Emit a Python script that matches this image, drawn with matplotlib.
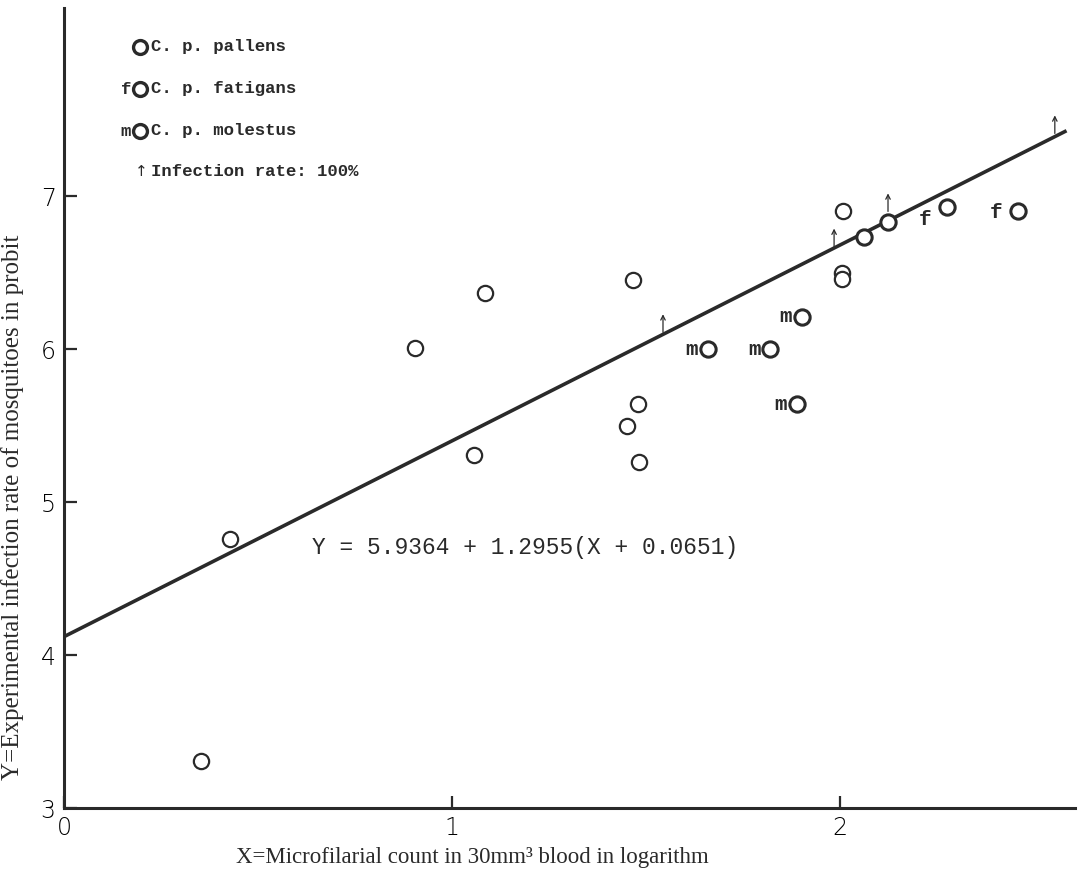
import matplotlib
matplotlib.use('Agg')
from matplotlib import pyplot as plt

# C. p. pallens (plain circles)
pallens_x = [0.353, 0.428, 0.905, 1.085, 1.057, 1.466, 1.479, 1.451, 1.482, 2.008, 2.005, 2.005]
pallens_y = [3.31, 4.76, 6.01, 6.37, 5.31, 6.45, 5.64, 5.50, 5.26, 6.90, 6.50, 6.46]
# points sitting on the regression line (bold rings)
online_x = [2.062, 2.124]
online_y = [6.73, 6.83]
# C. p. fatigans
fatigans_x = [2.276, 2.459]
fatigans_y = [6.93, 6.90]
# C. p. molestus
molestus_x = [1.66, 1.82, 1.902, 1.889]
molestus_y = [6.00, 6.00, 6.21, 5.64]
# infection rate 100% (arrow bases)
full_x = [1.544, 1.985, 2.124, 2.554]
full_y = [6.11, 6.67, 6.90, 7.41]

# regression line as drawn
line_x = [0.0, 2.58]
intercept, slope = 4.12, 1.28

mono = 'Liberation Mono'
serif = 'Liberation Serif'
ink = '#2a2a2a'

fig = plt.figure(figsize=(10.8, 8.74), dpi=100)
ax = fig.add_axes([64 / 1080, 1 - 808 / 874, 1011 / 1080, 800 / 874])
ax.set_xlim(0, 2.606)
ax.set_ylim(3, 8.23)

for s in ['top', 'right']:
    ax.spines[s].set_visible(False)
for s in ['left', 'bottom']:
    ax.spines[s].set_linewidth(2.2)
    ax.spines[s].set_color(ink)

ax.set_xticks([0, 1, 2])
ax.set_yticks([3, 4, 5, 6, 7])
ax.tick_params(direction='in', length=9, width=1.6, color=ink, labelsize=17, pad=6)
for lab in ax.get_xticklabels() + ax.get_yticklabels():
    lab.set_fontfamily('DejaVu Sans')
    lab.set_fontweight('light')

# regression line
ax.plot(line_x, [intercept + slope * v for v in line_x], color=ink, lw=2.6, zorder=2)

circ = dict(ls='none', marker='o', markersize=11, markerfacecolor='white', zorder=3)
ax.plot(pallens_x, pallens_y, markeredgecolor=ink, markeredgewidth=1.6, **circ)
ax.plot(online_x, online_y, markeredgecolor=ink, markeredgewidth=2.2, **circ)
ax.plot(fatigans_x, fatigans_y, markeredgecolor=ink, markeredgewidth=2.2, **circ)
ax.plot(molestus_x, molestus_y, markeredgecolor=ink, markeredgewidth=2.2, **circ)

f_offsets = [(-11, -9), (-11, -1)]
for x, y, off in zip(fatigans_x, fatigans_y, f_offsets):
    ax.annotate('f', (x, y), xytext=off, textcoords='offset points', ha='right',
                va='center', fontsize=15, fontfamily=mono, fontweight='bold', color=ink)
for x, y in zip(molestus_x, molestus_y):
    ax.annotate('m', (x, y), xytext=(-7, 0), textcoords='offset points', ha='right',
                va='center', fontsize=15, fontfamily=mono, fontweight='bold', color=ink)

for x, y in zip(full_x, full_y):
    ax.annotate('', xy=(x, y), xytext=(0, 13), textcoords='offset points',
                arrowprops=dict(arrowstyle='<-', lw=0.9, color=ink,
                                shrinkA=0, shrinkB=0, mutation_scale=8))

# equation
ax.text(0.639, 4.70, 'Y = 5.9364 + 1.2955(X + 0.0651)', fontsize=16.5, fontfamily=mono,
        va='center', ha='left', color=ink)

# legend block (axes fraction)
rows = [1 - (47 - 8) / 800, 1 - (89 - 8) / 800, 1 - (131 - 8) / 800, 1 - (172 - 8) / 800]
cx = (140 - 64) / 1011
tx = (151 - 64) / 1011
leg = dict(transform=ax.transAxes, fontsize=12.5, fontfamily=mono, fontweight='bold',
           color=ink, va='center')
for r in rows[:3]:
    ax.plot([cx], [r], transform=ax.transAxes, ls='none', marker='o', markersize=10,
            markerfacecolor='white', markeredgecolor=ink, markeredgewidth=2.4, clip_on=False)
ax.text(tx, rows[0], 'C. p. pallens', **leg)
ax.text(cx - 0.009, rows[1], 'f', ha='right', **leg)
ax.text(tx, rows[1], 'C. p. fatigans', **leg)
ax.text(cx - 0.009, rows[2], 'm', ha='right', **leg)
ax.text(tx, rows[2], 'C. p. molestus', **leg)
ax.text(tx - 0.003, rows[3], '\u2191', transform=ax.transAxes, fontsize=11, color=ink,
        va='center', ha='right', fontfamily='DejaVu Sans')
ax.text(tx, rows[3], 'Infection rate: 100%', **leg)

fig.text(472 / 1080, 1 - 858 / 874, 'X=Microfilarial count in 30mm\u00b3 blood in logarithm',
         ha='center', va='center', fontsize=16.5, fontfamily=serif, color=ink)
fig.text(13 / 1080, 1 - 507 / 874, 'Y=Experimental infection rate of mosquitoes in probit',
         ha='center', va='center', rotation=90, fontsize=18, fontfamily=serif, color=ink)

fig.savefig('out.png', dpi=100)
